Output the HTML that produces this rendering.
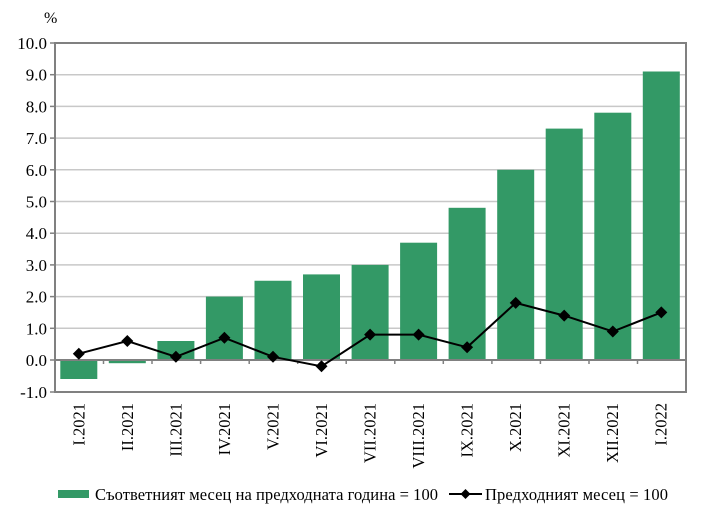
<!DOCTYPE html><html><head><style>body{margin:0;background:#fff}svg{display:block}text{font-family:"Liberation Serif",serif;fill:#000}</style></head><body>
<svg width="702" height="516" viewBox="0 0 702 516">
<g stroke="#c8c8c8" stroke-width="1.5">
<line x1="55" x2="686" y1="74.7" y2="74.7"/><line x1="55" x2="686" y1="106.4" y2="106.4"/><line x1="55" x2="686" y1="138.1" y2="138.1"/><line x1="55" x2="686" y1="169.8" y2="169.8"/><line x1="55" x2="686" y1="201.5" y2="201.5"/><line x1="55" x2="686" y1="233.2" y2="233.2"/><line x1="55" x2="686" y1="264.9" y2="264.9"/><line x1="55" x2="686" y1="296.6" y2="296.6"/><line x1="55" x2="686" y1="328.3" y2="328.3"/>
</g>
<g fill="#339966">
<rect x="60.3" y="360" width="37" height="19"/>
<rect x="108.8" y="360" width="37" height="3.2"/>
<rect x="157.4" y="341" width="37" height="19"/>
<rect x="205.9" y="296.6" width="37" height="63.4"/>
<rect x="254.5" y="280.75" width="37" height="79.25"/>
<rect x="303" y="274.4" width="37" height="85.6"/>
<rect x="351.6" y="264.9" width="37" height="95.1"/>
<rect x="400.1" y="242.7" width="37" height="117.3"/>
<rect x="448.6" y="207.8" width="37" height="152.2"/>
<rect x="497.2" y="169.8" width="37" height="190.2"/>
<rect x="545.7" y="128.6" width="37" height="231.4"/>
<rect x="594.3" y="112.7" width="37" height="247.3"/>
<rect x="642.8" y="71.5" width="37" height="288.5"/>
</g>
<g stroke="#808080" stroke-width="2" fill="none">
<rect x="55" y="43" width="631" height="349"/>
<line x1="55" x2="686" y1="360" y2="360"/>
</g>
<g stroke="#808080" stroke-width="1.5">
<line x1="50" x2="55" y1="43" y2="43"/><line x1="50" x2="55" y1="74.7" y2="74.7"/><line x1="50" x2="55" y1="106.4" y2="106.4"/><line x1="50" x2="55" y1="138.1" y2="138.1"/><line x1="50" x2="55" y1="169.8" y2="169.8"/><line x1="50" x2="55" y1="201.5" y2="201.5"/><line x1="50" x2="55" y1="233.2" y2="233.2"/><line x1="50" x2="55" y1="264.9" y2="264.9"/><line x1="50" x2="55" y1="296.6" y2="296.6"/><line x1="50" x2="55" y1="328.3" y2="328.3"/><line x1="50" x2="55" y1="360" y2="360"/><line x1="50" x2="55" y1="392" y2="392"/>
<line x1="103.5" x2="103.5" y1="360" y2="364"/><line x1="152" x2="152" y1="360" y2="364"/><line x1="200.6" x2="200.6" y1="360" y2="364"/><line x1="249.2" x2="249.2" y1="360" y2="364"/><line x1="297.7" x2="297.7" y1="360" y2="364"/><line x1="346.2" x2="346.2" y1="360" y2="364"/><line x1="394.8" x2="394.8" y1="360" y2="364"/><line x1="443.3" x2="443.3" y1="360" y2="364"/><line x1="491.9" x2="491.9" y1="360" y2="364"/><line x1="540.4" x2="540.4" y1="360" y2="364"/><line x1="589" x2="589" y1="360" y2="364"/><line x1="637.5" x2="637.5" y1="360" y2="364"/>
</g>
<polyline fill="none" stroke="#000" stroke-width="2" points="78.8,353.7 127.3,341 175.9,356.8 224.4,337.8 273,356.8 321.5,366.3 370.1,334.6 418.6,334.6 467.1,347.3 515.7,302.9 564.2,315.6 612.8,331.5 661.3,312.4"/>
<g fill="#000">
<path d="M78.8,347.7l6,6-6,6-6-6z"/><path d="M127.3,335l6,6-6,6-6-6z"/><path d="M175.9,350.8l6,6-6,6-6-6z"/><path d="M224.4,331.8l6,6-6,6-6-6z"/><path d="M273,350.8l6,6-6,6-6-6z"/><path d="M321.5,360.3l6,6-6,6-6-6z"/><path d="M370.1,328.6l6,6-6,6-6-6z"/><path d="M418.6,328.6l6,6-6,6-6-6z"/><path d="M467.1,341.3l6,6-6,6-6-6z"/><path d="M515.7,296.9l6,6-6,6-6-6z"/><path d="M564.2,309.6l6,6-6,6-6-6z"/><path d="M612.8,325.5l6,6-6,6-6-6z"/><path d="M661.3,306.4l6,6-6,6-6-6z"/>
</g>
<g font-size="17" text-anchor="end">
<text x="47" y="49">10.0</text><text x="47" y="80.7">9.0</text><text x="47" y="112.4">8.0</text><text x="47" y="144">7.0</text><text x="47" y="175.8">6.0</text><text x="47" y="207.5">5.0</text><text x="47" y="239">4.0</text><text x="47" y="271">3.0</text><text x="47" y="302.6">2.0</text><text x="47" y="334.3">1.0</text><text x="47" y="366">0.0</text><text x="47" y="398">-1.0</text>
</g>
<text x="44" y="23" font-size="16">%</text>
<g font-size="16.5" text-anchor="end">
<text transform="translate(84.5,403) rotate(-90)">I.2021</text>
<text transform="translate(133,403) rotate(-90)">II.2021</text>
<text transform="translate(181.5,403) rotate(-90)">III.2021</text>
<text transform="translate(230,403) rotate(-90)">IV.2021</text>
<text transform="translate(278.5,403) rotate(-90)">V.2021</text>
<text transform="translate(327,403) rotate(-90)">VI.2021</text>
<text transform="translate(375.5,403) rotate(-90)">VII.2021</text>
<text transform="translate(424,403) rotate(-90)">VIII.2021</text>
<text transform="translate(472.5,403) rotate(-90)">IX.2021</text>
<text transform="translate(521,403) rotate(-90)">X.2021</text>
<text transform="translate(569.5,403) rotate(-90)">XI.2021</text>
<text transform="translate(618,403) rotate(-90)">XII.2021</text>
<text transform="translate(666.5,403) rotate(-90)">I.2022</text>
</g>
<rect x="58" y="490" width="31" height="8" fill="#339966"/>
<text x="95" y="500" font-size="16.5" textLength="343">Съответният месец на предходната година = 100</text>
<line x1="449" x2="482" y1="494" y2="494" stroke="#000" stroke-width="2"/>
<path d="M465.5,489l5,5-5,5-5-5z" fill="#000"/>
<text x="485" y="500" font-size="16.5" textLength="183">Предходният месец = 100</text>
</svg></body></html>
